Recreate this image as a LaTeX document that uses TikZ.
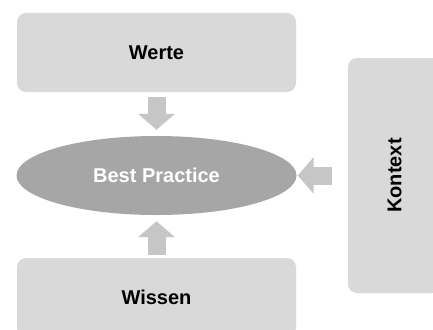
\documentclass[tikz,border=0pt]{standalone}
\usepackage{fontspec}
\setmainfont{Liberation Sans}
\usetikzlibrary{shapes.geometric,arrows.meta}
\definecolor{boxgray}{HTML}{D9D9D9}
\definecolor{ellgray}{HTML}{A6A6A6}
\definecolor{arrgray}{HTML}{C6C6C6}
\tikzset{
    feld/.style={fill=boxgray, draw=none, rounded corners=9pt, inner sep=0pt,
        font=\fontsize{20}{24}\selectfont\bfseries},
    pfeil/.style={draw=arrgray, line width=18pt,
        -{Triangle[width=36pt,length=16pt]}, arrgray}
}
\begin{document}
\begin{tikzpicture}[x=1pt,y=-1pt]
            \useasboundingbox(0,0)rectangle(433,329);
            \clip(0,0)rectangle(433,329);
            \node[feld, minimum width=279pt, minimum height=79pt](werte)at(156.5,52.5){Werte};
            \node[feld, minimum width=279pt, minimum height=79pt](wissen)at(156.5,297.5){Wissen};
            \node[feld, minimum width=93pt, minimum height=235pt](kontext)at(394.5,175.5){\rotatebox{90}{Kontext}};
            \node[ellipse, fill=ellgray, minimum width=280pt, minimum height=79pt, inner sep=0pt,
                text=white, font=\fontsize{20}{24}\selectfont\bfseries](bp)at(156.5,175.5){Best Practice};
            \draw[pfeil, shorten <=5pt, shorten >=6pt](werte.south)--(bp.north);
            \draw[pfeil, shorten <=3pt, shorten >=6pt](wissen.north)--(bp.south);
            \draw[pfeil, shorten <=16pt, shorten >=1pt](kontext.west)--(bp.east);
        \end{tikzpicture}
\end{document}
